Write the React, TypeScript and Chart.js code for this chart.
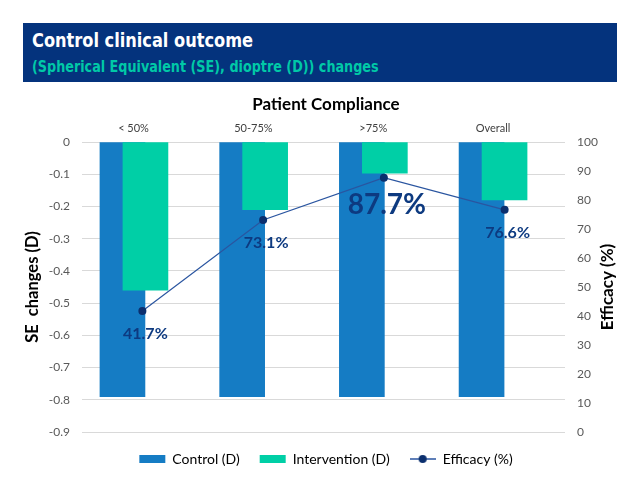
import React, { useEffect, useRef } from "react";
import { Chart, registerables } from "chart.js";

Chart.register(...registerables);

// ---- data ----
const CATEGORIES = ["< 50%", "50-75%", ">75%", "Overall"];
const CONTROL = [-0.79, -0.79, -0.79, -0.79];
const INTERVENTION = [-0.46, -0.21, -0.097, -0.18];
const EFFICACY = [41.7, 73.1, 87.7, 76.6];
const EFFICACY_LABELS = ["41.7%", "73.1%", "87.7%", "76.6%"];
const SERIES_NAMES = ["Control (D)", "Intervention (D)", "Efficacy (%)"];

// ---- styles ----
const FONT = "Lato, 'Open Sans', sans-serif";
const HEAD_FONT = "'DejaVu Sans Condensed', 'DejaVu Sans', sans-serif";
const BLUE = "#157cc4";
const TEAL = "#00cfa6";
const LINE = "#2a55a0";
const DOT = "#0b2f6e";
const NAVY_TEXT = "#0d3a80";
const GRID = "#d9d9d9";
const TICK = "#595959";

function makeLineIcon(): HTMLCanvasElement {
  const c = document.createElement("canvas");
  c.width = 26;
  c.height = 10;
  const g = c.getContext("2d")!;
  g.strokeStyle = LINE;
  g.lineWidth = 1.5;
  g.beginPath();
  g.moveTo(0, 5);
  g.lineTo(26, 5);
  g.stroke();
  g.fillStyle = DOT;
  g.beginPath();
  g.arc(13, 5, 4, 0, Math.PI * 2);
  g.fill();
  return c;
}

const overlayPlugin = {
  id: "overlay",
  afterDatasetsDraw(chart: any) {
    const ctx = chart.ctx;
    const meta = chart.getDatasetMeta(2);
    const maxIdx = EFFICACY.indexOf(Math.max(...EFFICACY));
    ctx.save();
    ctx.fillStyle = NAVY_TEXT;
    ctx.textAlign = "center";
    ctx.textBaseline = "middle";
    meta.data.forEach((pt: any, i: number) => {
      const big = i === maxIdx;
      ctx.font = `bold ${big ? 28 : 16}px ${FONT}`;
      ctx.fillText(EFFICACY_LABELS[i], pt.x + 3, pt.y + (big ? 27 : 23));
    });
    ctx.restore();
  },
  afterDraw(chart: any) {
    const ctx = chart.ctx;
    const a = chart.chartArea;
    ctx.save();
    ctx.translate(608, (a.top + a.bottom) / 2);
    ctx.rotate(-Math.PI / 2);
    ctx.font = `bold 17px ${FONT}`;
    ctx.fillStyle = "#000";
    ctx.textAlign = "center";
    ctx.textBaseline = "middle";
    ctx.fillText("Efficacy (%)", 0, 0);
    ctx.restore();
  },
};

export default function App() {
  const ref = useRef<HTMLCanvasElement>(null);

  useEffect(() => {
    if (!ref.current) return;
    const lineIcon = makeLineIcon();
    const chart = new Chart(ref.current, {
      type: "bar",
      data: {
        datasets: [
          {
            type: "bar",
            label: SERIES_NAMES[0],
            data: CONTROL.map((v, i) => ({ x: i, y: v })),
            backgroundColor: BLUE,
            xAxisID: "xb",
            yAxisID: "y",
            grouped: false,
            barThickness: 45,
            order: 2,
          } as any,
          {
            type: "bar",
            label: SERIES_NAMES[1],
            data: INTERVENTION.map((v, i) => ({ x: i, y: v })),
            backgroundColor: TEAL,
            xAxisID: "xt",
            yAxisID: "y",
            grouped: false,
            barThickness: 45,
            order: 1,
          } as any,
          {
            type: "line",
            label: SERIES_NAMES[2],
            data: EFFICACY.map((v, i) => ({ x: i, y: v })),
            borderColor: LINE,
            borderWidth: 1.2,
            pointRadius: 4,
            pointBackgroundColor: DOT,
            pointBorderWidth: 0,
            xAxisID: "xl",
            yAxisID: "y1",
            order: 0,
          } as any,
        ],
      },
      options: {
        animation: false,
        responsive: false,
        maintainAspectRatio: false,
        layout: { padding: { top: 90, left: 12, right: 0, bottom: 14 } },
        plugins: {
          title: {
            display: true,
            text: "Patient Compliance",
            color: "#000",
            font: { family: FONT, size: 17, weight: "bold" },
            padding: { top: 4, bottom: 0 },
          },
          legend: {
            position: "bottom",
            labels: {
              usePointStyle: true,
              pointStyleWidth: 26,
              boxHeight: 8,
              padding: 20,
              color: "#404040",
              font: { family: FONT, size: 14 },
              generateLabels: () => [
                { text: SERIES_NAMES[0], fillStyle: BLUE, strokeStyle: BLUE, lineWidth: 0, pointStyle: "rect", datasetIndex: 0, hidden: false },
                { text: SERIES_NAMES[1], fillStyle: TEAL, strokeStyle: TEAL, lineWidth: 0, pointStyle: "rect", datasetIndex: 1, hidden: false },
                { text: SERIES_NAMES[2], fillStyle: DOT, strokeStyle: LINE, lineWidth: 0, pointStyle: lineIcon, datasetIndex: 2, hidden: false },
              ] as any,
            },
          },
          tooltip: { enabled: false },
        },
        scales: {
          xlab: {
            type: "linear",
            position: "top",
            offset: false,
            min: -0.43,
            max: 3.6,
            grid: { display: false, drawTicks: false },
            border: { display: false },
            ticks: {
              stepSize: 1,
              includeBounds: false,
              autoSkip: false,
              maxRotation: 0,
              padding: 7,
              color: "#404040",
              font: { family: FONT, size: 11 },
              callback: (v: any) => CATEGORIES[v as number] ?? "",
            },
            afterFit: (s: any) => {
              s.height = 27.6;
            },
          } as any,
          xb: { type: "linear", display: false, offset: false, min: -0.338, max: 3.697 },
          xt: { type: "linear", display: false, offset: false, min: -0.53, max: 3.505 },
          xl: { type: "linear", display: false, offset: false, min: -0.5, max: 3.5 },
          y: {
            type: "linear",
            position: "left",
            min: -0.9,
            max: 0,
            grid: { color: GRID, drawTicks: false },
            border: { display: false },
            ticks: {
              stepSize: 0.1,
              padding: 12,
              color: TICK,
              font: { family: FONT, size: 12 },
            },
            title: {
              display: true,
              text: "SE  changes (D)",
              color: "#000",
              font: { family: FONT, size: 16.5, weight: "bold" },
              padding: { top: 11, bottom: 0 },
            },
            afterFit: (s: any) => {
              s.width = 70;
            },
          } as any,
          y1: {
            type: "linear",
            position: "right",
            min: 0,
            max: 100,
            grid: { display: false, drawTicks: false },
            border: { display: false },
            ticks: {
              stepSize: 10,
              padding: 12,
              color: TICK,
              font: { family: FONT, size: 12 },
            },
            afterFit: (s: any) => {
              s.width = 75;
            },
          } as any,
        },
      },
      plugins: [overlayPlugin],
    });
    return () => chart.destroy();
  }, []);

  return (
    <div style={{ position: "absolute", left: 0, top: 0, width: 640, height: 490, background: "#fff" }}>
      <canvas ref={ref} width={640} height={490} style={{ position: "absolute", left: 0, top: 0, width: 640, height: 490 }} />
      <div
        style={{
          position: "absolute",
          left: 23,
          top: 23,
          width: 594,
          height: 59,
          background: "#04337d",
          fontFamily: HEAD_FONT,
          fontWeight: "bold",
          overflow: "hidden",
        }}
      >
        <div
          style={{
            position: "absolute",
            left: 9,
            top: 7,
            fontSize: 20,
            lineHeight: "20px",
            color: "#fff",
            whiteSpace: "nowrap",
            transform: "scaleX(0.9)",
            transformOrigin: "left center",
          }}
        >
          Control clinical outcome
        </div>
        <div
          style={{
            position: "absolute",
            left: 9,
            top: 35,
            fontSize: 16.5,
            lineHeight: "17px",
            color: "#00c9a7",
            whiteSpace: "nowrap",
            transform: "scaleX(0.86)",
            transformOrigin: "left center",
          }}
        >
          (Spherical Equivalent (SE), dioptre (D)) changes
        </div>
      </div>
    </div>
  );
}
